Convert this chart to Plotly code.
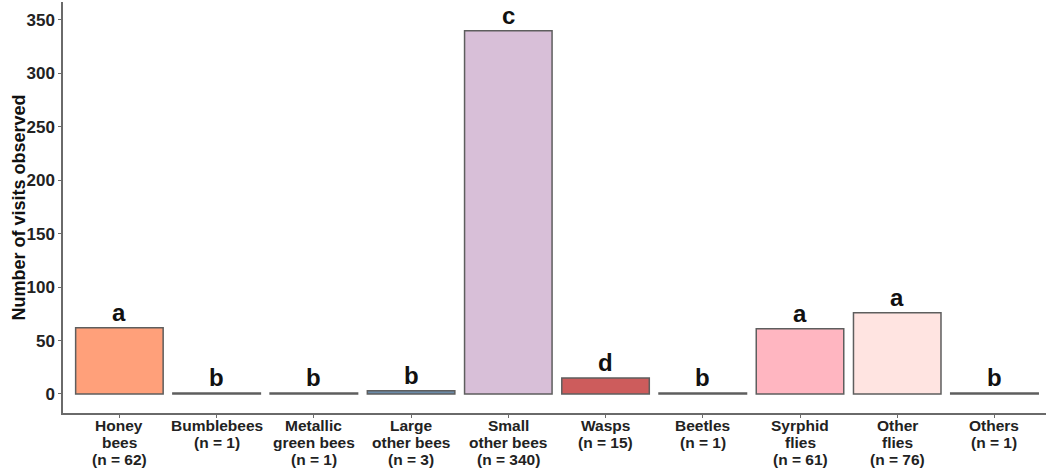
import plotly.graph_objects as go

categories = ["Honey bees", "Bumblebees", "Metallic green bees", "Large other bees",
              "Small other bees", "Wasps", "Beetles", "Syrphid flies", "Other flies", "Others"]
# x-axis label lines for each category
label_lines = [["Honey", "bees", "(n = 62)"], ["Bumblebees", "(n = 1)"],
               ["Metallic", "green bees", "(n = 1)"], ["Large", "other bees", "(n = 3)"],
               ["Small", "other bees", "(n = 340)"], ["Wasps", "(n = 15)"],
               ["Beetles", "(n = 1)"], ["Syrphid", "flies", "(n = 61)"],
               ["Other", "flies", "(n = 76)"], ["Others", "(n = 1)"]]
visits = [62, 1, 1, 3, 340, 15, 1, 61, 76, 1]
letters = ["a", "b", "b", "b", "c", "d", "b", "a", "a", "b"]
colors = ["#FFA07A", "#4F4F4F", "#4F4F4F", "#6C8BA8", "#D8BFD8", "#CD5C5C",
          "#4F4F4F", "#FFB6C1", "#FFE4E1", "#4F4F4F"]
y_ticks = [0, 50, 100, 150, 200, 250, 300, 350]

FONT = "Liberation Sans, Arial, sans-serif"
xpos = list(range(len(categories)))

fig = go.Figure()
fig.add_trace(go.Bar(
    x=xpos, y=visits, width=0.9,
    marker=dict(color=colors, line=dict(color="#5E5E5E", width=1.5)),
    showlegend=False, hovertext=categories,
))

# significance letters above the bars
for i, (v, lab) in enumerate(zip(visits, letters)):
    fig.add_annotation(x=i, y=v, text=f"<b>{lab}</b>", showarrow=False,
                       yanchor="bottom", yshift=0,
                       font=dict(family=FONT, size=24, color="#111"))

# category labels below the axis, one line per annotation for tight spacing
for i, lines in enumerate(label_lines):
    for j, line in enumerate(lines):
        fig.add_annotation(x=i, xref="x", y=0, yref="paper", text=f"<b>{line}</b>",
                           showarrow=False, yanchor="middle", yshift=-(12 + 17 * j),
                           font=dict(family=FONT, size=15.5, color="#222"))

# y-axis title
fig.add_annotation(x=0, xref="paper", xshift=-45, y=0.5, yref="paper",
                   text="<b>Number of visits observed</b>", textangle=-90,
                   showarrow=False, xanchor="center", yanchor="middle",
                   font=dict(family=FONT, size=18, color="#111"))

fig.update_layout(
    width=1046, height=471,
    margin=dict(l=63, r=0, t=2, b=58),
    plot_bgcolor="white", paper_bgcolor="white",
    font=dict(family=FONT, color="#222"),
)
fig.update_xaxes(
    range=[-0.58, 9.53], tickmode="array", tickvals=xpos, showticklabels=False,
    showgrid=False, zeroline=False, automargin=False,
    showline=True, linecolor="#6a6a6a", linewidth=1.5,
    ticks="outside", ticklen=3, tickcolor="#6a6a6a",
)
fig.update_yaxes(
    range=[-17.8, 366.8], tickvals=y_ticks,
    showgrid=False, zeroline=False, automargin=False,
    showline=True, linecolor="#6a6a6a", linewidth=1.5,
    ticks="outside", ticklen=3, tickcolor="#6a6a6a",
    tickfont=dict(family=FONT, size=17, weight="bold", color="#222"),
)

fig.write_html("out.html")
